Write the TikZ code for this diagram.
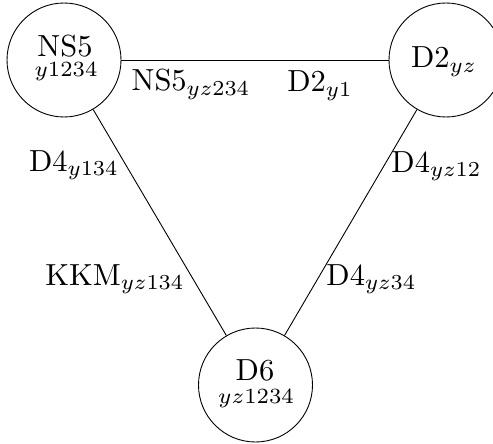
\documentclass[tikz,border=0pt]{standalone}
\begin{document}
\begin{tikzpicture}[x=1pt,y=-1pt,
  brane/.style={circle,draw,line width=0.9pt,minimum size=114pt,inner sep=0pt},
  big/.style={inner sep=0pt,anchor=base,scale=3.05},
  small/.style={font=\scriptsize,inner sep=0pt,anchor=base,scale=3.1},
  link/.style={line width=0.9pt}]
\useasboundingbox (0,0) rectangle (493,444);
\node[brane] (ns5) at (64,60) {};
\node[brane] (d2) at (446,60) {};
\node[brane] (d6) at (255.5,385) {};
\node[big] (ns5t) at (65,56) {NS5};
\node[small] (ns5s) at (66,77) {$y1234$};
\node[big] (d2t) at (444,68) {D2$_{yz}$};
\node[big] (d6t) at (255,380) {D6};
\node[small] (d6s) at (256,403) {$yz1234$};
\draw[link] (ns5) -- (d2);
\draw[link] (ns5) -- (d6);
\draw[link] (d2) -- (d6);
\node[big] (l1) at (191,91) {NS5$_{yz234}$};
\node[big] (l2) at (320,92) {D2$_{y1}$};
\node[big] (l3) at (74,171) {D4$_{y134}$};
\node[big] (l4) at (436.5,172) {D4$_{yz12}$};
\node[big] (l5) at (115,285) {KKM$_{yz134}$};
\node[big] (l6) at (371.5,285) {D4$_{yz34}$};
\end{tikzpicture}
\end{document}
